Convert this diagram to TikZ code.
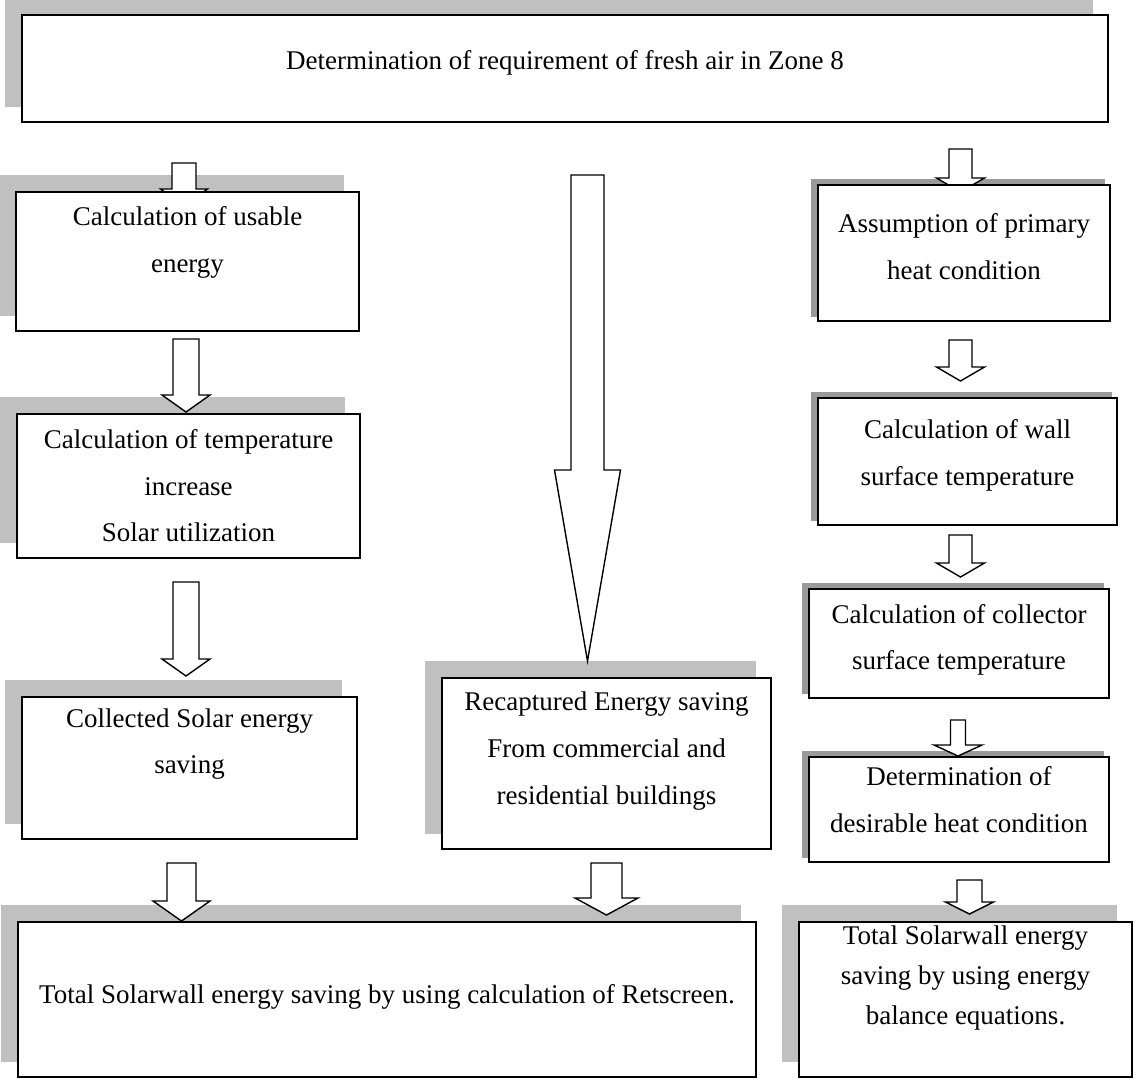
\documentclass[tikz,border=0pt]{standalone}
\usepackage{fontspec}
\setmainfont{Liberation Serif}
\usetikzlibrary{calc}

\pgfdeclarelayer{shade}
\pgfdeclarelayer{arrows}
\pgfsetlayers{shade,arrows,main}

\definecolor{lightshade}{HTML}{C0C0C0}
\definecolor{darkshade}{HTML}{9A9A9A}

\tikzset{
    box/.style={draw, line width=1pt, fill=white, inner sep=0pt},
    boxtext/.style={align=center, inner sep=0pt, font=\fontsize{13.5}{23.3}\selectfont},
    arrowline/.style={draw, fill=white, line width=0.7pt, line join=miter},
}

% block arrow: shaft top (y only), tip, shaft half width, head half width, head length (px)
\newcommand{\blockarrow}[5]{%
    \draw[arrowline] let \p1=(#1), \p2=(#2) in
        (\x2-#3*0.5pt,\y1) -- (\x2+#3*0.5pt,\y1) -- (\x2+#3*0.5pt,\y2+#5*0.5pt)
        -- (\x2+#4*0.5pt,\y2+#5*0.5pt) -- (\x2,\y2) -- (\x2-#4*0.5pt,\y2+#5*0.5pt)
        -- (\x2-#3*0.5pt,\y2+#5*0.5pt) -- cycle;}

\begin{document}
\begin{tikzpicture}[x=0.5pt, y=-0.5pt]
    \useasboundingbox (0,0) rectangle (1135,1078);

    \node[box, minimum width=543pt, minimum height=53.5pt] (top) at (565,68.5) {};
    \node[box, minimum width=171.5pt, minimum height=69.5pt] (b1) at (187.5,261.5) {};
    \node[box, minimum width=171.5pt, minimum height=72pt] (b2) at (188.5,486) {};
    \node[box, minimum width=167.5pt, minimum height=71pt] (b3) at (189.5,768) {};
    \node[box, minimum width=164.5pt, minimum height=85.5pt] (mid) at (606.5,763.5) {};
    \node[box, minimum width=369pt, minimum height=77.5pt] (bl) at (387,999.5) {};
    \node[box, minimum width=146pt, minimum height=68pt] (r1) at (964,253) {};
    \node[box, minimum width=149.5pt, minimum height=63.5pt] (r2) at (967.5,461.5) {};
    \node[box, minimum width=150pt, minimum height=54.5pt] (r3) at (959,643.5) {};
    \node[box, minimum width=150pt, minimum height=52.5pt] (r4) at (959,809.5) {};
    \node[box, minimum width=166.5pt, minimum height=77.5pt] (br) at (965.5,999.5) {};

    \node[boxtext] (toptext) at ($(top.center)+(0,-5.5)$) {Determination of requirement of fresh air in Zone 8};
    \node[boxtext] (b1text) at ($(b1.center)+(0,-19)$) {Calculation of usable\\energy};
    \node[boxtext] (b2text) at (b2.center) {Calculation of temperature\\increase\\Solar utilization};
    \node[boxtext] (b3text) at ($(b3.center)+(0,-24)$) {Collected Solar energy\\saving};
    \node[boxtext] (midtext) at ($(mid.center)+(0,-12.5)$) {Recaptured Energy saving\\From commercial and\\residential buildings};
    \node[boxtext] (bltext) at ($(bl.center)+(0,-2.5)$) {Total Solarwall energy saving by using calculation of Retscreen.};
    \node[boxtext] (r1text) at ($(r1.center)+(0,-6.5)$) {Assumption of primary\\heat condition};
    \node[boxtext] (r2text) at ($(r2.center)+(0,-6)$) {Calculation of wall\\surface temperature};
    \node[boxtext] (r3text) at ($(r3.center)+(0,-3.5)$) {Calculation of collector\\surface temperature};
    \node[boxtext] (r4text) at ($(r4.center)+(0,-10)$) {Determination of\\desirable heat condition};
    \node[boxtext, font=\fontsize{13.5}{20}\selectfont] (brtext) at ($(br.center)+(0,-22)$) {Total Solarwall energy\\saving by using energy\\balance equations.};

    \begin{pgfonlayer}{shade}
        \foreach \n in {top,b1,b2,b3,mid,bl,br}
            \fill[lightshade] ($(\n.north west)+(-16,-16)$) rectangle ($(\n.south east)+(-16,-16)$);
        \foreach \n in {r1,r2,r3,r4}
            \fill[darkshade] ($(\n.north west)+(-6,-5)$) rectangle ($(\n.south east)+(-6,-5)$);
    \end{pgfonlayer}

    \begin{pgfonlayer}{arrows}
        \blockarrow{$(top.south)+(0,40)$}{$(b1.north)+(-3.5,15)$}{12}{23.5}{17}
        \blockarrow{$(b1.south)+(0,7)$}{$(b2.north)+(-2.5,-1)$}{13}{24}{17}
        \blockarrow{$(b2.south)+(0,23)$}{$(b3.north)+(-3.5,-20)$}{13}{24}{17}
        \blockarrow{$(top.south)+(0,52)$}{$(mid.north)+(-19,-16)$}{16.5}{33}{191}
        \blockarrow{$(b3.south)+(0,23)$}{$(b3.south |- bl.north)+(-8,0)$}{14.5}{28.5}{20}
        \blockarrow{$(mid.south)+(0,13)$}{$(mid.south |- bl.north)+(0,-6)$}{15.5}{31.5}{17}
        \blockarrow{$(top.south)+(0,26)$}{$(r1.north)+(-3.5,8)$}{11.5}{24}{14}
        \blockarrow{$(r1.south)+(0,18)$}{$(r2.north)+(-7,-16)$}{11.5}{24}{14}
        \blockarrow{$(r2.south)+(0,9)$}{$(r3.north)+(1.5,-11)$}{11.5}{24}{14}
        \blockarrow{$(r3.south)+(0,21)$}{$(r4.north)+(-1,0)$}{7.5}{24}{11}
        \blockarrow{$(r4.south)+(0,17)$}{$(br.north)+(4,-7)$}{12.5}{24}{12}
    \end{pgfonlayer}
\end{tikzpicture}
\end{document}
